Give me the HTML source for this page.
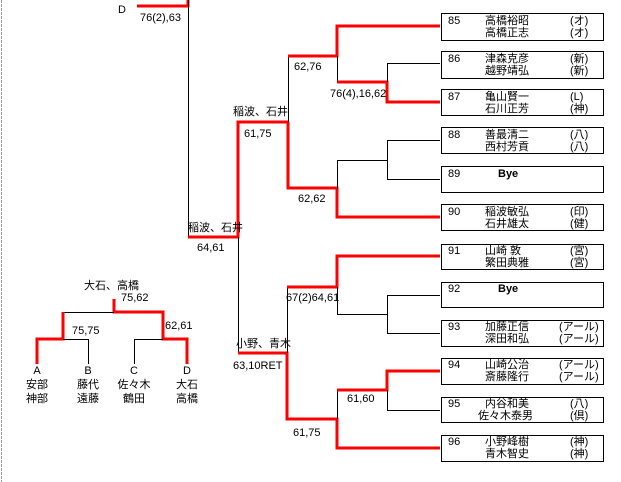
<!DOCTYPE html>
<html><head><meta charset="utf-8"><style>
html,body{margin:0;padding:0;background:#fff;width:621px;height:482px;overflow:hidden}
svg{display:block}
text{font-family:"Liberation Sans","Noto Sans CJK JP",sans-serif;font-size:11px;fill:#000}
.r{stroke:#f00;stroke-width:3;fill:none}
.k{stroke:#000;stroke-width:1;fill:none}
.bx{stroke:#000;stroke-width:1;fill:#fff}
</style></head><body>
<svg width="621" height="482" viewBox="0 0 621 482">
<line x1="1.5" y1="0" x2="1.5" y2="482" stroke="#999" stroke-width="1" stroke-dasharray="3,1"/>
<!-- top -->
<text x="118" y="13" font-size="13">D</text>
<text x="140" y="21">76(2),63</text>
<polyline class="r" points="137,6 188,6 188,0"/>
<line class="k" x1="188.5" y1="0" x2="188.5" y2="237"/>
<polyline class="r" points="188,237 238,237 238,122 288,122"/>
<line class="k" x1="288.5" y1="56" x2="288.5" y2="122"/>
<polyline class="r" points="288,122 288,188 337,188 337,217 440,217"/>
<polyline class="r" points="288,56 337,56 337,26 440,26"/>
<line class="k" x1="337.5" y1="56" x2="337.5" y2="82"/>
<polyline class="r" points="337,82 387,82 387,102 440,102"/>
<polyline class="k" points="387.5,82 387.5,63.5 440,63.5"/>
<polyline class="k" points="440,140.5 387.5,140.5 387.5,179.5 440,179.5"/>
<polyline class="k" points="337.5,189 337.5,160.5 387.5,160.5"/>
<text x="233" y="115">稲波、石井</text>
<text x="244" y="137">61,75</text>
<text x="294" y="70">62,76</text>
<text x="330" y="97">76(4),16,62</text>
<text x="298" y="202">62,62</text>
<text x="188" y="231">稲波、石井</text>
<text x="197" y="251">64,61</text>
<!-- bottom -->
<line class="k" x1="238.5" y1="237" x2="238.5" y2="353"/>
<polyline class="r" points="238,353 287,353 287,419 337,419 337,448 440,448"/>
<line class="k" x1="287.5" y1="287" x2="287.5" y2="353"/>
<polyline class="r" points="287,287 337,287 337,256 440,256"/>
<polyline class="k" points="337.5,287 337.5,314.5 387.5,314.5"/>
<polyline class="k" points="440,295.5 387.5,295.5 387.5,333.5 440,333.5"/>
<polyline class="k" points="337.5,419 337.5,390"/>
<polyline class="r" points="337,390 387,390 387,371 440,371"/>
<polyline class="k" points="387.5,390 387.5,410.5 440,410.5"/>
<text x="286" y="301">67(2)64,61</text>
<text x="236" y="347">小野、青木</text>
<text x="233" y="369">63,10RET</text>
<text x="347" y="402">61,60</text>
<text x="293" y="436">61,75</text>
<!-- small bracket -->
<text x="84" y="289">大石、高橋</text>
<text x="121" y="301">75,62</text>
<polyline class="r" points="114,299 114,312 163,312 163,339 187,339 187,364"/>
<polyline class="k" points="63,312.5 114,312.5"/>
<polyline class="k" points="134.5,364 134.5,339.5 163,339.5"/>
<polyline class="r" points="63,312 63,339 37,339 37,364"/>
<polyline class="k" points="63,339.5 88.5,339.5 88.5,364"/>
<text x="72" y="334">75,75</text>
<text x="165" y="329">62,61</text>
<g text-anchor="middle">
<text x="37" y="374">A</text><text x="37" y="388">安部</text><text x="37" y="402">神部</text>
<text x="88" y="374">B</text><text x="88" y="388">藤代</text><text x="88" y="402">遠藤</text>
<text x="134" y="374">C</text><text x="134" y="388">佐々木</text><text x="134" y="402">鶴田</text>
<text x="187" y="374">D</text><text x="187" y="388">大石</text><text x="187" y="402">高橋</text>
</g>
<!-- boxes -->
<g>
<rect class="bx" x="441.5" y="13.5" width="162" height="27"/>
<rect class="bx" x="441.5" y="51.5" width="162" height="27"/>
<rect class="bx" x="441.5" y="89.5" width="162" height="26"/>
<rect class="bx" x="441.5" y="127.5" width="162" height="26"/>
<rect class="bx" x="441.5" y="166.5" width="162" height="26"/>
<rect class="bx" x="441.5" y="204.5" width="162" height="26"/>
<rect class="bx" x="441.5" y="244.5" width="162" height="25"/>
<rect class="bx" x="441.5" y="282.5" width="162" height="25"/>
<rect class="bx" x="441.5" y="320.5" width="162" height="26"/>
<rect class="bx" x="441.5" y="358.5" width="162" height="26"/>
<rect class="bx" x="441.5" y="397.5" width="162" height="25"/>
<rect class="bx" x="441.5" y="435.5" width="162" height="26"/>
</g>
<g>
<text x="448" y="24">85</text><text x="485" y="24">高橋裕昭</text><text x="570" y="24">(オ)</text><text x="485" y="36">高橋正志</text><text x="570" y="36">(オ)</text>
<text x="448" y="62">86</text><text x="485" y="62">津森克彦</text><text x="570" y="62">(新)</text><text x="485" y="74">越野靖弘</text><text x="570" y="74">(新)</text>
<text x="448" y="100">87</text><text x="485" y="100">亀山賢一</text><text x="570" y="100">(L)</text><text x="485" y="112">石川正芳</text><text x="570" y="112">(神)</text>
<text x="448" y="138">88</text><text x="485" y="138">善最清二</text><text x="570" y="138">(八)</text><text x="485" y="150">西村芳貢</text><text x="570" y="150">(八)</text>
<text x="448" y="177">89</text><text x="498" y="177" font-weight="bold">Bye</text>
<text x="448" y="215">90</text><text x="485" y="215">稲波敏弘</text><text x="570" y="215">(印)</text><text x="485" y="227">石井雄太</text><text x="570" y="227">(健)</text>
<text x="448" y="254">91</text><text x="485" y="254">山崎 敦</text><text x="570" y="254">(宮)</text><text x="485" y="266">繁田典雅</text><text x="570" y="266">(宮)</text>
<text x="448" y="292">92</text><text x="498" y="292" font-weight="bold">Bye</text>
<text x="448" y="330">93</text><text x="485" y="330">加藤正信</text><text x="559" y="330">(アール)</text><text x="485" y="342">深田和弘</text><text x="559" y="342">(アール)</text>
<text x="448" y="368">94</text><text x="485" y="368">山崎公治</text><text x="559" y="368">(アール)</text><text x="485" y="380">斎藤隆行</text><text x="559" y="380">(アール)</text>
<text x="448" y="407">95</text><text x="485" y="407">内谷和美</text><text x="570" y="407">(八)</text><text x="478" y="419">佐々木泰男</text><text x="570" y="419">(倶)</text>
<text x="448" y="445">96</text><text x="485" y="445">小野峰樹</text><text x="570" y="445">(神)</text><text x="485" y="457">青木智史</text><text x="570" y="457">(神)</text>
</g>
</svg>
</body></html>
